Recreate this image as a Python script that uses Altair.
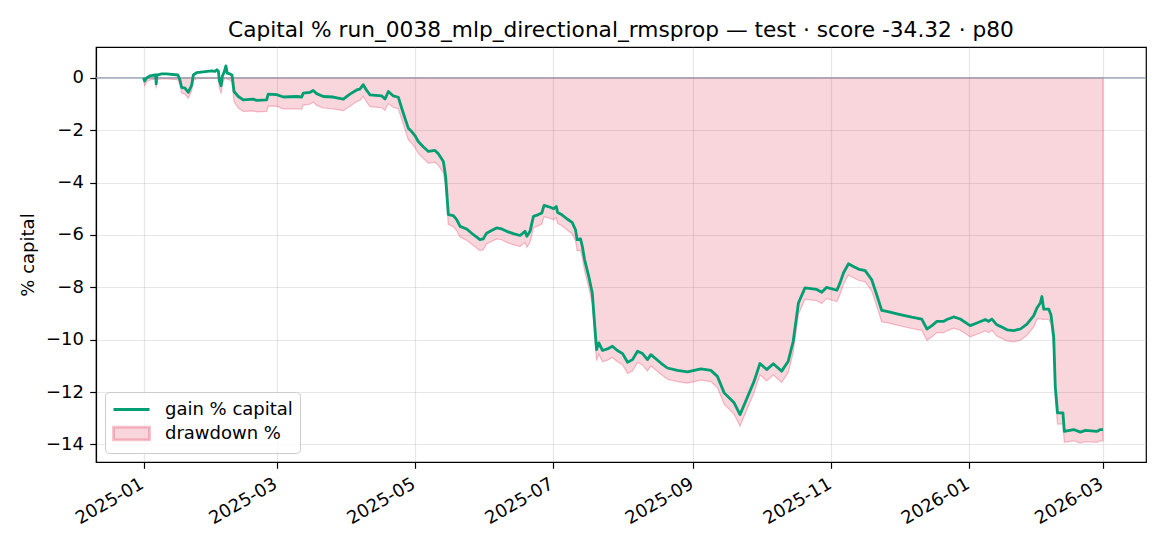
import altair as alt
import pandas as pd

# ---- data (days since 2025-01-01) ----
days = [0, 0.5, 1.4, 2.9, 5.3, 5.6, 5.9, 8.0, 10.2, 15.2, 16.1, 16.8, 18.3, 19.8, 21.3, 22.0, 23.5,
        30.1, 31.6, 32.4, 33.1, 33.5, 34.3, 34.8, 35.7, 36.4, 37.0, 38.2, 39.1, 40.0, 41.9, 44.1,
        48.5, 50.0, 54.4, 55.1, 58.8, 61.8, 67.7, 69.9, 70.6, 73.6, 75.0, 76.5, 79.4, 83.8, 88.3,
        91.2, 94.2, 95.6, 97.1, 98.6, 100.1, 105.3, 106.7, 108.2, 110.4, 112.6, 114.1, 115.5,
        117.0, 118.5, 120.0, 121.4, 123.7, 125.9, 128.8, 130.3, 132.5, 133.5, 134.7, 136.9, 138.4,
        139.9, 142.8, 145.8, 148.7, 150.1, 151.6, 153.8, 156.0, 158.3, 160.5, 163.4, 166.4, 168.6,
        169.4, 170.8, 172.3, 174.5, 176.0, 177.0, 179.7, 181.2, 182.4, 183.0, 184.9, 187.2, 189.4,
        190.9, 191.6, 193.1, 193.9, 194.9, 196.9, 198.3, 200.2, 201.2, 202.8, 205.0, 207.2, 209.4,
        211.7, 213.9, 216.1, 218.3, 220.5, 222.7, 224.2, 228.6, 231.5, 235.9, 240.4, 246.3, 250.7,
        253.6, 256.6, 261.0, 263.6, 266.1, 269.8, 272.4, 275.4, 278.3, 282.0, 284.9, 287.1, 289.4,
        292.3, 297.5, 299.7, 301.9, 306.4, 307.8, 309.3, 311.5, 313.7, 315.9, 318.9, 321.8, 324.0,
        326.2, 328.5, 334.4, 339.5, 343.9, 346.2, 348.4, 350.6, 353.5, 355.0, 358.0, 360.9, 365.3,
        368.3, 372.0, 373.4, 374.9, 377.1, 378.6, 381.6, 384.5, 387.5, 390.4, 393.4, 394.8, 396.3,
        397.0, 397.8, 400.0, 401.0, 402.2, 402.9, 403.9, 406.3, 406.9, 411.0, 414.0, 416.2, 421.4,
        422.8, 424.0]

gain = [0.00, -0.12, 0.00, 0.08, 0.12, -0.23, 0.11, 0.15, 0.15, 0.11, -0.08, -0.36, -0.39, -0.55,
        -0.27, 0.11, 0.20, 0.27, 0.25, 0.31, 0.25, -0.10, -0.30, 0.05, 0.24, 0.46, 0.18, 0.15, 0.11,
        -0.52, -0.71, -0.84, -0.81, -0.86, -0.84, -0.62, -0.64, -0.73, -0.71, -0.73, -0.58, -0.55,
        -0.48, -0.60, -0.71, -0.73, -0.81, -0.62, -0.46, -0.43, -0.26, -0.48, -0.65, -0.69, -0.81,
        -0.52, -0.69, -0.74, -1.16, -1.53, -1.92, -2.05, -2.21, -2.43, -2.64, -2.81, -2.77, -2.90,
        -3.19, -3.76, -5.22, -5.26, -5.41, -5.67, -5.77, -5.99, -6.18, -6.15, -5.93, -5.83, -5.73,
        -5.77, -5.86, -5.95, -6.02, -5.86, -6.05, -5.86, -5.29, -5.22, -5.16, -4.87, -4.94, -5.00,
        -4.91, -5.14, -5.23, -5.39, -5.52, -5.80, -6.18, -6.15, -6.43, -6.94, -7.64, -8.21, -10.38,
        -10.12, -10.41, -10.35, -10.25, -10.41, -10.53, -10.86, -10.76, -10.44, -10.53, -10.76,
        -10.57, -10.89, -11.08, -11.17, -11.23, -11.11, -11.17, -11.40, -12.03, -12.41, -12.86,
        -12.35, -11.59, -10.91, -11.14, -10.92, -11.20, -10.82, -10.06, -8.60, -8.02, -8.08, -8.19,
        -8.00, -8.11, -7.83, -7.45, -7.10, -7.20, -7.30, -7.36, -7.71, -8.28, -8.88, -8.92, -9.04,
        -9.14, -9.21, -9.59, -9.46, -9.30, -9.30, -9.23, -9.13, -9.21, -9.46, -9.36, -9.23, -9.30,
        -9.21, -9.43, -9.49, -9.62, -9.65, -9.59, -9.40, -9.08, -8.79, -8.60, -8.35, -8.83, -8.83,
        -9.05, -9.87, -11.78, -12.79, -12.79, -13.50, -13.43, -13.53, -13.46, -13.50, -13.43, -13.43]

drawdown = [-0.05, -0.30, -0.15, -0.08, -0.05, -0.40, -0.06, -0.04, -0.04, -0.07, -0.28, -0.58,
            -0.62, -0.78, -0.48, -0.10, -0.03, -0.02, -0.02, -0.01, -0.03, -0.38, -0.60, -0.25,
            -0.05, 0.00, -0.05, -0.08, -0.15, -0.90, -1.15, -1.28, -1.26, -1.30, -1.28, -1.08,
            -1.08, -1.18, -1.17, -1.19, -1.04, -1.00, -0.92, -1.04, -1.15, -1.18, -1.25, -1.08,
            -0.90, -0.86, -0.70, -0.92, -1.10, -1.14, -1.24, -0.98, -1.13, -1.18, -1.58, -1.95,
            -2.36, -2.50, -2.66, -2.88, -3.08, -3.26, -3.22, -3.34, -3.62, -4.20, -5.60, -5.68,
            -5.84, -6.08, -6.20, -6.40, -6.60, -6.56, -6.34, -6.25, -6.15, -6.18, -6.28, -6.37,
            -6.44, -6.28, -6.47, -6.28, -5.72, -5.65, -5.58, -5.30, -5.37, -5.42, -5.34, -5.56,
            -5.65, -5.81, -5.95, -6.22, -6.60, -6.58, -6.86, -7.36, -8.06, -8.64, -10.80, -10.55,
            -10.84, -10.78, -10.68, -10.84, -10.96, -11.29, -11.19, -10.87, -10.96, -11.19, -11.00,
            -11.32, -11.51, -11.60, -11.66, -11.54, -11.60, -11.83, -12.46, -12.85, -13.30, -12.78,
            -12.02, -11.34, -11.57, -11.35, -11.63, -11.25, -10.49, -9.03, -8.45, -8.51, -8.62,
            -8.43, -8.54, -8.26, -7.88, -7.53, -7.63, -7.73, -7.79, -8.14, -8.71, -9.31, -9.35,
            -9.47, -9.57, -9.64, -10.02, -9.89, -9.73, -9.73, -9.66, -9.56, -9.64, -9.89, -9.79,
            -9.66, -9.73, -9.64, -9.86, -9.92, -10.05, -10.08, -10.02, -9.83, -9.51, -9.22, -9.20,
            -9.22, -9.22, -9.22, -9.40, -10.30, -12.20, -13.22, -13.22, -13.92, -13.86, -13.95,
            -13.89, -13.92, -13.86, -13.86]

series_names = ["gain % capital", "drawdown %"]
title_text = "Capital % run_0038_mlp_directional_rmsprop \u2014 test \u00b7 score -34.32 \u00b7 p80"
y_title = "% capital"
x_tick_months = [(2025, 1), (2025, 3), (2025, 5), (2025, 7), (2025, 9), (2025, 11), (2026, 1), (2026, 3)]
y_ticks = [-14, -12, -10, -8, -6, -4, -2, 0]

GREEN = "#009E73"
PINK_FILL = "rgba(220,20,60,0.18)"
PINK_EDGE = "rgba(220,20,60,0.26)"
ZERO = "#8e9bb0"
FONT = "DejaVu Sans"

base = pd.Timestamp("2025-01-01")
dates = (base + pd.to_timedelta(days, unit="D")).strftime("%Y-%m-%dT%H:%M:%SZ")
df = pd.DataFrame({"date": list(dates), "gain": gain, "dd": drawdown})
zero_df = pd.DataFrame({"v": [0]})

xscale = alt.Scale(type="utc", nice=False,
                   domain=[alt.DateTime(year=2024, month=12, date=11, utc=True),
                           alt.DateTime(year=2026, month=3, date=20, utc=True)])
yscale = alt.Scale(domain=[-14.67, 1.18], nice=False, zero=False)

xaxis = alt.Axis(values=[alt.DateTime(year=y, month=m, date=1, utc=True) for y, m in x_tick_months],
                 labelExpr="utcFormat(datum.value, '%Y-%m')", labelAngle=-30, labelAlign="right",
                 labelBaseline="top", labelOffset=-6, title=None)
yaxis = alt.Axis(values=y_ticks, labelExpr="replace(format(datum.value, 'd'), '-', '\u2212')",
                 title=y_title, titlePadding=8)

leg = alt.Legend(title=None, orient="bottom-left", offset=9, padding=7,
                 fillColor="rgba(255,255,255,0.8)", strokeColor="#cccccc", cornerRadius=4,
                 labelFont=FONT, labelFontSize=18, labelColor="black", labelOffset=32,
                 symbolSize=324, symbolStrokeWidth=2.8, symbolOpacity=1, rowPadding=2)

fill_scale = alt.Scale(domain=series_names, range=["transparent", PINK_FILL])
stroke_scale = alt.Scale(domain=series_names, range=[GREEN, PINK_EDGE])
shape_scale = alt.Scale(domain=series_names, range=["M-1,0H3", "M-1,-0.7H3V0.7H-1Z"])

X = alt.X("date:T", scale=xscale, axis=xaxis)

area = alt.Chart(df).transform_calculate(series="'drawdown %'").mark_area(
    strokeWidth=1.2, fillOpacity=1).encode(
    x=X,
    y=alt.Y("dd:Q", scale=yscale, axis=yaxis),
    y2=alt.datum(0),
    fill=alt.Fill("series:N", scale=fill_scale, legend=leg),
    stroke=alt.Stroke("series:N", scale=stroke_scale, legend=leg),
)

zero = alt.Chart(zero_df).mark_rule(color=ZERO, strokeWidth=1.2).encode(y=alt.Y("v:Q", scale=yscale))

line = alt.Chart(df).transform_calculate(series="'gain % capital'").mark_line(
    strokeWidth=2.8, strokeJoin="round").encode(
    x=X,
    y=alt.Y("gain:Q", scale=yscale),
    stroke=alt.Stroke("series:N", scale=stroke_scale, legend=leg),
)

legend_shapes = alt.Chart(df).transform_calculate(series="'gain % capital'").transform_filter(
    "false").mark_point(opacity=1, filled=False).encode(
    shape=alt.Shape("series:N", scale=shape_scale, legend=leg),
)

chart = alt.layer(area, zero, line, legend_shapes).properties(
    width=1050, height=415,
    padding={"left": 88, "top": 39, "right": 16, "bottom": 70},
    autosize=alt.AutoSizeParams(type="none"),
    title=alt.TitleParams(title_text, font=FONT, fontSize=21.7, fontWeight="normal", color="black",
                          anchor="middle", offset=11, baseline="alphabetic", dy=23),
).configure_view(stroke="black", strokeWidth=1.2).configure_axis(
    grid=True, gridColor="#b0b0b0", gridOpacity=0.3, gridWidth=1.2,
    domainColor="black", domainWidth=1.2, tickColor="black", tickWidth=1.2, tickSize=6.3,
    labelFont=FONT, labelFontSize=18, labelColor="black", labelPadding=6.3,
    titleFont=FONT, titleFontSize=18, titleFontWeight="normal", titleColor="black",
)

chart.save("out.html", embed_options={"renderer": "svg", "actions": False})
